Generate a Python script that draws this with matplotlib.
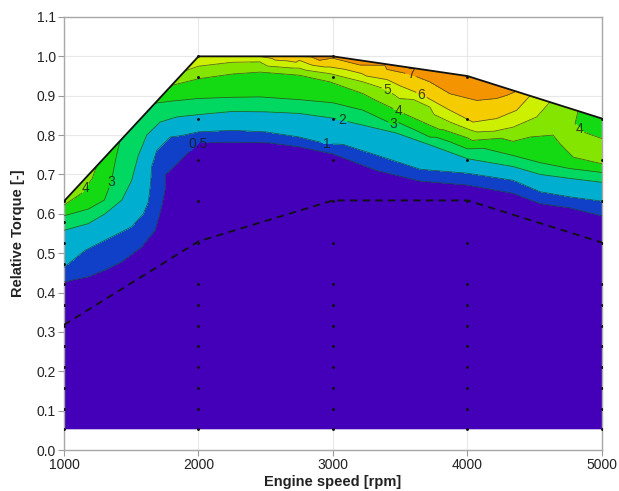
import matplotlib.pyplot as plt
import matplotlib.tri as mtri
import numpy as np
from matplotlib.patches import Polygon

plt.rcParams["font.family"] = ["Liberation Sans", "DejaVu Sans"]

# ---------------------------------------------------------------------------
# Data read from the map
# ---------------------------------------------------------------------------

# full-load curve (upper border of the map)
FL_RPM = [1000, 2000, 3000, 4000, 5000]
FL_TQ = [0.632, 1.0, 1.0, 0.95, 0.842]

# dashed reference line
DASH_RPM = [1000, 2000, 3000, 4000, 5000]
DASH_TQ = [0.318, 0.53, 0.634, 0.634, 0.527]

# measured operating points, torque in steps of 1/19
PT_RPM = [1000, 2000, 3000, 4000, 5000]
PT_STEPS_1000 = [1, 2, 3, 4, 5, 6, 7, 8, 9, 10, 11, 12]
PT_STEPS = [1, 2, 3, 4, 5, 6, 7, 8, 10, 12, 14, 16, 18, 19]
BOTTOM_TQ = 1 / 19

LEVELS = [0, 0.5, 1, 2, 3, 4, 5, 6, 7, 8]
BAND_COLORS = ["#4300b8", "#1040c8", "#00aed0", "#00d862", "#14da14",
               "#84e600", "#cdf000", "#f4cc00", "#f49400"]

# iso-lines (rpm, torque) for each level
ISO_0_5 = [(1000, 0.427), (1180, 0.44), (1305, 0.457), (1430, 0.478), (1577, 0.516),
           (1677, 0.558), (1726, 0.618), (1751, 0.66), (1755, 0.70), (1762, 0.738),
           (1790, 0.758), (1890, 0.775), (2000, 0.78), (2250, 0.782), (2530, 0.78),
           (2750, 0.77), (3000, 0.752), (3325, 0.71), (3650, 0.683), (4000, 0.673),
           (4340, 0.652), (4540, 0.626), (4760, 0.615), (5000, 0.595)]
ISO_1 = [(1000, 0.464), (1156, 0.507), (1305, 0.533), (1503, 0.567), (1590, 0.60),
         (1627, 0.63), (1645, 0.68), (1652, 0.72), (1690, 0.761), (1790, 0.795),
         (2000, 0.808), (2250, 0.812), (2500, 0.808), (2750, 0.795), (2953, 0.778),
         (3325, 0.749), (3650, 0.713), (4000, 0.703), (4340, 0.685), (4540, 0.656),
         (4760, 0.643), (5000, 0.632)]
ISO_2 = [(1000, 0.558), (1180, 0.575), (1305, 0.60), (1430, 0.635), (1503, 0.685),
         (1530, 0.72), (1553, 0.749), (1615, 0.80), (1714, 0.833), (1838, 0.846),
         (2000, 0.852), (2250, 0.86), (2500, 0.859), (2750, 0.855), (3000, 0.843),
         (3225, 0.825), (3473, 0.805), (3721, 0.775), (4000, 0.74), (4340, 0.72),
         (4540, 0.70), (4760, 0.69), (5000, 0.68)]
ISO_3_LOW = [(1000, 0.595), (1180, 0.612), (1300, 0.635), (1350, 0.68), (1385, 0.74),
             (1416, 0.785)]
ISO_3_HIGH = [(1677, 0.881), (1790, 0.886), (2000, 0.893), (2250, 0.896), (2457, 0.897),
              (2750, 0.89), (3000, 0.882), (3225, 0.863), (3449, 0.827), (3721, 0.795),
              (4000, 0.765), (4340, 0.748), (4540, 0.73), (4760, 0.715), (5000, 0.705)]
ISO_4_LOW = [(1000, 0.622), (1130, 0.652), (1210, 0.69), (1243, 0.721)]
ISO_4_HIGH = [(1800, 0.926), (2000, 0.943), (2250, 0.955), (2457, 0.96), (2750, 0.952),
              (2978, 0.935), (3225, 0.905), (3486, 0.861), (3721, 0.825), (4000, 0.793),
              (4250, 0.792), (4465, 0.795), (4636, 0.80), (4688, 0.778), (4786, 0.744),
              (5000, 0.727)]
ISO_4_CORNER = [(4822, 0.861), (4800, 0.829), (4860, 0.808), (5000, 0.791)]
ISO_5 = [(1900, 0.963), (2000, 0.975), (2250, 0.985), (2457, 0.986), (2750, 0.97),
         (2978, 0.956), (3225, 0.935), (3404, 0.915), (3600, 0.89), (3721, 0.871),
         (3870, 0.833), (4068, 0.808), (4200, 0.81), (4338, 0.82), (4514, 0.846),
         (4613, 0.884)]
ISO_6 = [(2450, 1.0), (2750, 0.99), (2978, 0.973), (3250, 0.95), (3500, 0.925),
         (3659, 0.903), (3780, 0.88), (3870, 0.863), (4041, 0.833), (4217, 0.842),
         (4366, 0.863), (4465, 0.90)]
ISO_7 = [(2700, 1.0), (2900, 0.99), (3200, 0.978), (3400, 0.967), (3580, 0.954),
         (3721, 0.935), (3870, 0.905), (4068, 0.888), (4217, 0.893), (4300, 0.902),
         (4360, 0.911)]

# values along the full-load curve (rpm, torque, value)
TOP_VALUES = [(1000, 0.632, 4.3), (1125, 0.678, 4.3), (1330, 0.753, 3.5),
              (1550, 0.834, 2.6), (2000, 1.0, 5.6), (2250, 1.0, 5.85), (2600, 1.0, 6.6),
              (2850, 1.0, 7.15), (3000, 1.0, 7.2), (3200, 0.99, 7.15), (3400, 0.98, 7.1),
              (3580, 0.971, 7.15), (3721, 0.964, 7.4), (3870, 0.9565, 7.7),
              (4000, 0.95, 7.8), (4217, 0.9266, 7.6), (4540, 0.891, 5.5),
              (4720, 0.872, 4.5), (4900, 0.853, 3.8), (5000, 0.842, 3.7)]

# spot values inside closed regions (rpm, torque, value)
INNER_VALUES = [(4550, 0.83, 4.7), (4720, 0.805, 4.5), (4900, 0.765, 4.3),
                (1470, 0.75, 2.5), (1650, 0.845, 2.6),
                (1250, 0.38, 0.3), (2250, 0.6, 0.3), (3000, 0.55, 0.3), (4000, 0.55, 0.3),
                (1000, 0.3, 0.2), (1500, 0.3, 0.2), (2000, 0.3, 0.2), (2500, 0.3, 0.2),
                (3000, 0.3, 0.2), (3500, 0.3, 0.2), (4000, 0.3, 0.2), (4500, 0.3, 0.2),
                (5000, 0.3, 0.2)]
BOTTOM_RPM = [1000, 1500, 2000, 2500, 3000, 3500, 4000, 4500, 5000]

ISO_LINES = [(0.5, ISO_0_5), (1, ISO_1), (2, ISO_2), (3, ISO_3_LOW), (3, ISO_3_HIGH),
             (4, ISO_4_LOW), (4, ISO_4_HIGH), (4, ISO_4_CORNER), (5, ISO_5),
             (6, ISO_6), (7, ISO_7)]

# contour label spots
LABEL_POS = [(2000, 0.776), (2953, 0.778), (3065, 0.836), (3449, 0.827),
             (3486, 0.861), (3404, 0.915), (3659, 0.903), (3580, 0.955),
             (4837, 0.817), (1180, 0.66), (1357, 0.68)]


# ---------------------------------------------------------------------------
# Build scattered field
# ---------------------------------------------------------------------------

xs, ys, zs = [], [], []
for level, line in ISO_LINES:
    for r, t in line:
        xs.append(r); ys.append(t); zs.append(level)
for r, t, v in TOP_VALUES + INNER_VALUES:
    xs.append(r); ys.append(t); zs.append(v)
for r in BOTTOM_RPM:
    xs.append(r); ys.append(BOTTOM_TQ); zs.append(0.0)
xs, ys, zs = np.array(xs, float), np.array(ys, float), np.array(zs, float)

# triangulate in screen-like units so the long thin bands connect properly
tri_screen = mtri.Triangulation((xs - 1000) / 4000 * 538, ys * 394)
tri = mtri.Triangulation(xs, ys, triangles=tri_screen.triangles)

# ---------------------------------------------------------------------------
# Figure
# ---------------------------------------------------------------------------

fig = plt.figure(figsize=(6.19, 4.91), dpi=100)
ax = fig.add_axes([0.1034, 0.0835, 0.8691, 0.8819])
ax.set_xlim(1000, 5000)
ax.set_ylim(0, 1.1)

border = Polygon(list(zip(FL_RPM, FL_TQ)) + [(5000, BOTTOM_TQ), (1000, BOTTOM_TQ)],
                 closed=True, transform=ax.transData, facecolor="none", edgecolor="none")

cf = ax.tricontourf(tri, zs, levels=LEVELS, colors=BAND_COLORS, zorder=2)
cf.set_clip_path(border)
cl = ax.tricontour(tri, zs, levels=LEVELS[1:-1], colors="#2c3a2c", linewidths=0.55,
                   alpha=0.8, zorder=3)
cl.set_clip_path(border)
labels = ax.clabel(cl, manual=LABEL_POS, inline=True, inline_spacing=2, fontsize=10,
                   fmt=lambda v: f"{v:g}", colors="#1a1a1a")
for t in labels:
    t.set_rotation(0)

ax.plot(FL_RPM, FL_TQ, color="#111111", linewidth=1.3, zorder=5)
ax.plot(DASH_RPM, DASH_TQ, color="#111111", linewidth=1.3, dashes=(4, 3), zorder=5)

for r in PT_RPM:
    steps = PT_STEPS_1000 if r == 1000 else PT_STEPS
    top = np.interp(r, FL_RPM, FL_TQ)
    ty = [s / 19 for s in steps if s / 19 <= top + 0.002]
    ax.plot([r] * len(ty), ty, "o", color="#111111", markersize=2.1, zorder=6,
            markeredgewidth=0)

ax.set_xticks([1000, 2000, 3000, 4000, 5000])
ax.set_yticks(np.arange(0, 1.11, 0.1))
ax.set_yticklabels([f"{v:.1f}" for v in np.arange(0, 1.11, 0.1)])
ax.grid(True, color="#e8e8e8", linewidth=0.8, zorder=0)
ax.set_axisbelow(True)
ax.tick_params(direction="out", length=4, pad=2, color="#9a9a9a", labelsize=10,
               labelcolor="#222222")
for sp in ax.spines.values():
    sp.set_color("#a8a8a8")
    sp.set_linewidth(1.0)

ax.set_xlabel("Engine speed [rpm]", fontsize=10.5, fontweight="bold", color="#222222",
              labelpad=2)
ax.set_ylabel("Relative Torque [-]", fontsize=10.5, fontweight="bold", color="#222222",
              labelpad=8)

fig.savefig("out.png", dpi=100)
